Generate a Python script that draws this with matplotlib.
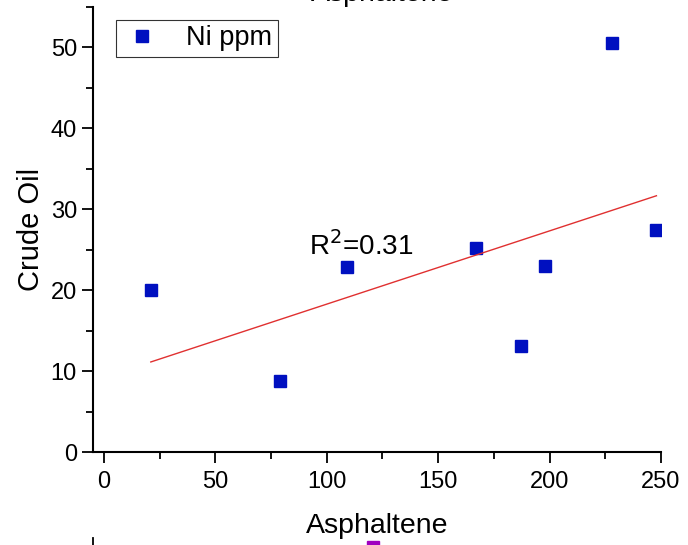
import matplotlib.pyplot as plt
import numpy as np
from matplotlib.lines import Line2D
from matplotlib.patches import Rectangle
from matplotlib.ticker import MultipleLocator

plt.rcParams["font.family"] = ["Liberation Sans", "DejaVu Sans"]

# Ni content: asphaltene vs crude oil (ppm)
asphaltene = [21, 79, 109, 167, 187, 198, 228, 248]
crude_oil = [20.0, 8.8, 22.9, 25.2, 13.1, 23.0, 50.5, 27.5]
# linear fit as printed on the chart
fit_slope = 0.0905
fit_intercept = 9.23
r2_text = "R$^2$=0.31"

fig = plt.figure(figsize=(6.88, 5.45), dpi=100)
ax = fig.add_axes([0.135, 0.1706, 0.8256, 0.8165])

ax.plot(asphaltene, crude_oil, "s", color="#0010c0", markersize=8.8,
        linestyle="none", label="Ni ppm")

xfit = np.array([min(asphaltene), max(asphaltene)])
ax.plot(xfit, fit_slope * xfit + fit_intercept, color="#e03030", linewidth=1.0)

ax.text(92, 24.4, r2_text, fontsize=20)

ax.set_xlim(-5, 250)
ax.set_ylim(0, 55)
ax.xaxis.set_major_locator(MultipleLocator(50))
ax.xaxis.set_minor_locator(MultipleLocator(25))
ax.yaxis.set_major_locator(MultipleLocator(10))
ax.yaxis.set_minor_locator(MultipleLocator(5))
ax.tick_params(which="major", length=8, width=1.3, labelsize=17, direction="out")
ax.tick_params(which="minor", length=5, width=1.3, direction="out")
ax.tick_params(axis="x", pad=6)
for side in ("top", "right"):
    ax.spines[side].set_visible(False)
for side in ("left", "bottom"):
    ax.spines[side].set_linewidth(1.5)

ax.set_xlabel("Asphaltene", fontsize=20.5, labelpad=14)
ax.set_ylabel("Crude Oil", fontsize=21, labelpad=4)

leg = ax.legend(loc="upper left", bbox_to_anchor=(0.0405, 0.971), fontsize=19.5,
                fancybox=False, edgecolor="black", handletextpad=0.9,
                borderpad=0.2, handlelength=1.5, borderaxespad=0)
leg.get_frame().set_linewidth(0.8)

# title of this panel, cut off at the top of the image
fig.text(0.555, 1.0 - 1.0 / 545, "Asphaltene", fontsize=20.5, ha="center",
         va="baseline")

# edge of the next panel showing at the bottom
fig.add_artist(Line2D([93 / 688, 93 / 688], [0, 7 / 545], color="black",
                      linewidth=1.3))
fig.add_artist(Rectangle((367 / 688, 0), 12 / 688, 4 / 545, color="#a000c0"))

fig.savefig("out.png", dpi=100)
